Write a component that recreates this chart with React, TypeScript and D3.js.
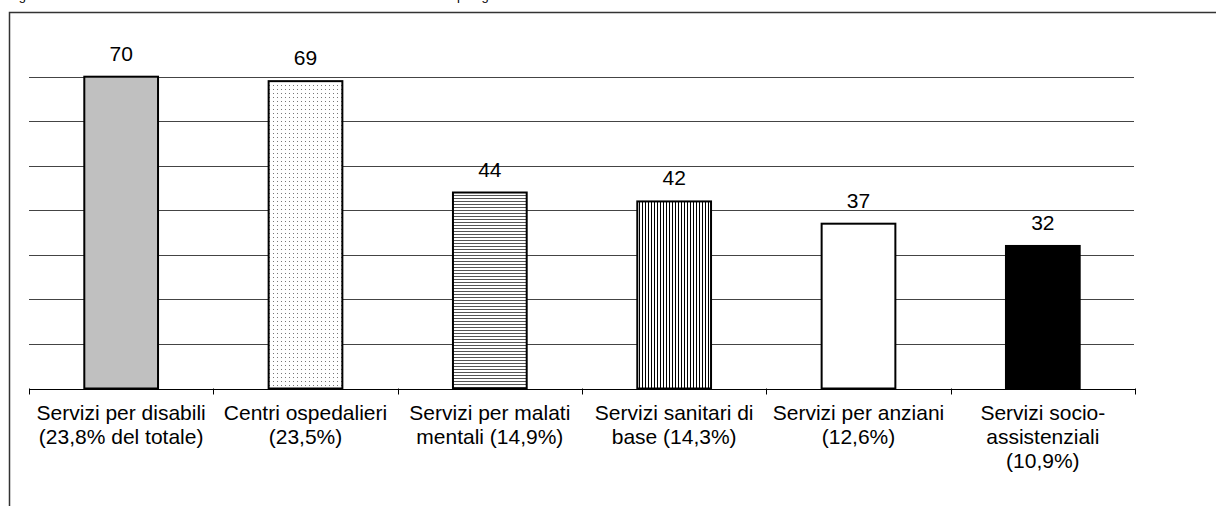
import * as d3 from 'd3'

const categories = [
  'Servizi per disabili',
  'Centri ospedalieri',
  'Servizi per malati mentali',
  'Servizi sanitari di base',
  'Servizi per anziani',
  'Servizi socio-assistenziali',
]
const labelLines = [
  ['Servizi per disabili', '(23,8% del totale)'],
  ['Centri ospedalieri', '(23,5%)'],
  ['Servizi per malati', 'mentali (14,9%)'],
  ['Servizi sanitari di', 'base (14,3%)'],
  ['Servizi per anziani', '(12,6%)'],
  ['Servizi socio-', 'assistenziali', '(10,9%)'],
]
const values = [70, 69, 44, 42, 37, 32]
const yTicks = [0, 10, 20, 30, 40, 50, 60, 70]
const title = 'Figura 1 - Strutture e servizi rilevati nel territorio della ASL distinti secondo la tipologia'

const W = 1216
const H = 506
const PLOT = { left: 29, right: 1135, top: 76.7, bottom: 388.5 }
const FONT = '"Liberation Sans", Arial, sans-serif'
const fills = ['#c0c0c0', 'url(#dots)', 'url(#hlines)', 'url(#vlines)', '#ffffff', '#000000']

export default function App() {
  const x = d3.scaleBand<string>()
    .domain(categories)
    .range([PLOT.left, PLOT.right])
    .paddingInner(0.6)
    .paddingOuter(0.3)
  const y = d3.scaleLinear().domain([0, 70]).range([PLOT.bottom, PLOT.top])
  const step = x.step()

  return (
    <svg width={W} height={H} style={{ position: 'absolute', left: 0, top: 0, background: '#fff' }}>
      <defs>
        <pattern id="dots" width={4} height={4} patternUnits="userSpaceOnUse">
          <rect width={4} height={4} fill="#fff" />
          <rect x={1} y={1} width={1} height={1} fill="#777" />
        </pattern>
        <pattern id="hlines" width={3} height={3} patternUnits="userSpaceOnUse">
          <rect width={3} height={3} fill="#fff" />
          <rect y={0} width={3} height={1} fill="#555" />
        </pattern>
        <pattern id="vlines" width={3} height={3} patternUnits="userSpaceOnUse">
          <rect width={3} height={3} fill="#fff" />
          <rect x={0} width={1} height={3} fill="#000" />
        </pattern>
      </defs>

      {/* titolo tagliato in alto, come nell'originale */}
      <text x={8} y={-0.5} fontFamily={FONT} fontSize={13} fill="#000">{title}</text>

      {/* cornice */}
      <path d={`M9.5,${H} V12.5 H${W}`} fill="none" stroke="#333" strokeWidth={1.5} />

      {/* griglia */}
      {yTicks.filter(t => t > 0).map(t => (
        <line key={t} x1={PLOT.left} x2={PLOT.right - 1} y1={Math.round(y(t)) + 0.5} y2={Math.round(y(t)) + 0.5}
          stroke="#444" strokeWidth={1} />
      ))}

      {/* asse x */}
      <line x1={PLOT.left} x2={PLOT.right} y1={Math.round(y(0)) + 0.5} y2={Math.round(y(0)) + 0.5} stroke="#000" />
      {d3.range(categories.length + 1).map(i => {
        const tx = Math.round(PLOT.left + i * step) + 0.5
        return <line key={i} x1={tx} x2={tx} y1={y(0)} y2={y(0) + 6} stroke="#000" />
      })}

      {/* barre */}
      {categories.map((c, i) => (
        <rect key={c} x={x(c)} y={y(values[i])} width={x.bandwidth()} height={y(0) - y(values[i])}
          fill={fills[i]} stroke="#000" strokeWidth={2} />
      ))}

      {/* valori */}
      {categories.map((c, i) => (
        <text key={c} x={(x(c) ?? 0) + x.bandwidth() / 2} y={y(values[i]) - 16} textAnchor="middle"
          fontFamily={FONT} fontSize={21} fill="#000">{values[i]}</text>
      ))}

      {/* etichette categorie */}
      {categories.map((c, i) => (
        <text key={c} textAnchor="middle" fontFamily={FONT} fontSize={21} fill="#000">
          {labelLines[i].map((l, j) => (
            <tspan key={j} x={(x(c) ?? 0) + x.bandwidth() / 2} y={420 + j * 24}>{l}</tspan>
          ))}
        </text>
      ))}
    </svg>
  )
}
